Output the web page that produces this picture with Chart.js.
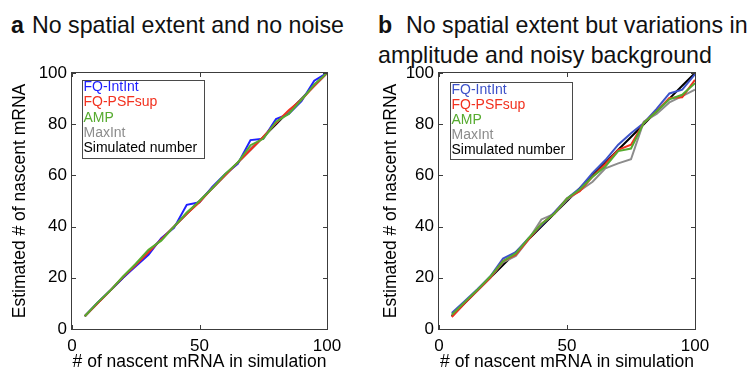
<!DOCTYPE html>
<html><head><meta charset="utf-8">
<script src="https://cdn.jsdelivr.net/npm/chart.js@4.4.0/dist/chart.umd.min.js"></script>
<style>
body{margin:0;background:#fff;width:752px;height:374px;overflow:hidden;position:relative;font-family:"Liberation Sans",Arial,sans-serif;}
.t{position:absolute;font-size:23.2px;line-height:30px;color:#111;white-space:nowrap;}
canvas{position:absolute;top:0;}
</style></head><body>
<div class="t" style="left:11px;top:10px;font-weight:bold">a</div>
<div class="t" style="left:32px;top:10px">No spatial extent and no noise</div>
<div class="t" style="left:378px;top:10px;font-weight:bold">b</div>
<div class="t" style="left:406px;top:10px">No spatial extent but variations in</div>
<div class="t" style="left:378px;top:40px">amplitude and noisy background</div>
<canvas id="cA" width="376" height="374" style="left:0"></canvas>
<canvas id="cB" width="384" height="374" style="left:368px"></canvas>
<script>
// ---- data ----
const simulated = [5,10,15,20,25,30,35,40,45,50,55,60,65,70,75,80,85,90,95,100];
const seriesNames = ['FQ-IntInt','FQ-PSFsup','AMP','MaxInt','Simulated number'];
const xTicks = [0,50,100];
const yTicks = [0,20,40,60,80,100];
const xTitle = '# of nascent mRNA in simulation';
const yTitle = 'Estimated # of nascent mRNA';

// panel a: no spatial extent and no noise
const a_intInt   = [5,10.3,15,20,24.5,29,35.5,39.5,48.5,49.5,55.5,60.5,64.5,73.8,74.3,82,84,89,97,100];
const a_psfSup   = [5,10,15,20.3,25,30,35,40,45,49.5,55,60,65,70,75,80.5,85.5,89.5,95,100];
const a_amp      = [5,10.3,15,20.5,25.5,31,34.5,40,45.5,50,55,60.5,65,71.8,74.3,81,84,89.5,95.5,100];
const a_maxInt   = [5,10,15,20,25,30.5,35,40,45,50,55,60,65,70.5,75,80.5,85,90,95,100];
const a_sim      = [5,10,15,20,25,30,35,40,45,50,55,60,65,70,75,80,85,90,95,100];

// panel b: variations in amplitude and noisy background
const b_intInt   = [6.3,10.8,15.5,20.5,27.5,30,35.5,40.5,45.5,51,55,61,66,72,76.5,80.5,86,92,93.5,99.5];
const b_psfSup   = [4.7,10,15,20,26.5,29,35,41,45,51,53.8,59.5,64.5,70,72,80.5,85,90.2,90.5,97.3];
const b_amp      = [5.6,10.5,15.3,20.5,26.5,29.5,35.5,41,45,51,54.5,59.5,63.5,69.5,70.5,80.5,85,89.7,91.5,96];
const b_maxInt   = [5.5,10.5,15,20,26,28.5,35,42.8,45,50.5,54,57.5,62.8,64.7,66.3,81,84,88.5,91,93.5];
const b_sim      = [5,10,15,20,25,30,35,40,45,50,55,60,65,70,75,80,85,90,95,100];

const FONT = '"Liberation Sans", Arial, sans-serif';

function pts(ys){ return simulated.map((x,i)=>({x:x, y:ys[i]})); }

const framePlugin = {
  id:'frame',
  afterDatasetsDraw(chart, args, opts){
    const ctx = chart.ctx;
    const ca = chart.chartArea;
    const xs = chart.scales.x, ys = chart.scales.y;
    const L = Math.round(ca.left), T = Math.round(ca.top), R = Math.round(ca.right), B = Math.round(ca.bottom);
    ctx.save();
    ctx.strokeStyle = '#3c3c3c'; ctx.lineWidth = 1;
    ctx.strokeRect(L-0.5, T-0.5, R-L+1, B-T+1);
    ctx.beginPath();
    const tl = 4;
    xTicks.forEach(v=>{
      const p = Math.round(xs.getPixelForValue(v)) + 0.5;
      ctx.moveTo(p, B); ctx.lineTo(p, B-tl);
      ctx.moveTo(p, T); ctx.lineTo(p, T+tl);
    });
    yTicks.forEach(v=>{
      const p = Math.round(ys.getPixelForValue(v)) + 0.5;
      ctx.moveTo(L, p); ctx.lineTo(L+tl, p);
      ctx.moveTo(R, p); ctx.lineTo(R-tl, p);
    });
    ctx.stroke();
    // legend (text only, coloured like the series)
    const bx = L + opts.dx, by = T + opts.dy;
    ctx.fillStyle = '#fff';
    ctx.fillRect(bx, by, opts.w, opts.h);
    ctx.strokeStyle = '#4a4a4a';
    ctx.strokeRect(bx+0.5, by+0.5, opts.w, opts.h);
    ctx.font = '14px ' + FONT;
    ctx.textBaseline = 'alphabetic';
    ctx.textAlign = 'left';
    chart.data.datasets.forEach((d,i)=>{
      ctx.fillStyle = d.borderColor;
      ctx.fillText(d.label, bx + 1.5, by + opts.first + i*opts.step);
    });
    ctx.restore();
  }
};

function makeChart(id, data, colors, cfg){
  const ds = data.map((ys,i)=>({
    label: seriesNames[i],
    data: pts(ys),
    borderColor: colors[i],
    backgroundColor: colors[i],
    borderWidth: 2,
    pointRadius: 0,
    tension: 0,
    fill: false,
    order: [3,2,1,4,5][i]
  }));
  return new Chart(document.getElementById(id), {
    type:'line',
    data:{datasets: ds},
    plugins:[framePlugin],
    options:{
      responsive:false, animation:false, devicePixelRatio:1,
      layout:{padding:{left:0, top:cfg.top, right:cfg.right, bottom:0}},
      plugins:{legend:{display:false}, tooltip:{enabled:false}, title:{display:false},
        frame: cfg.legend},
      scales:{
        x:{type:'linear', min:0, max:100,
          afterBuildTicks: s=>{ s.ticks = xTicks.map(v=>({value:v})); },
          ticks:{font:{size:17, family:FONT}, color:'#000', padding:7, maxRotation:0, autoSkip:false},
          grid:{display:false, drawTicks:false}, border:{display:false},
          title:{display:true, text:xTitle, color:'#000', font:{size:17.5, family:FONT}, padding:{top:0, bottom:1}},
          afterFit: s=>{ s.height = 374 - cfg.bottom; }
        },
        y:{type:'linear', min:0, max:100,
          afterBuildTicks: s=>{ s.ticks = yTicks.map(v=>({value:v})); },
          ticks:{font:{size:17, family:FONT}, color:'#000', padding:5, autoSkip:false},
          grid:{display:false, drawTicks:false}, border:{display:false},
          title:{display:true, text:yTitle, color:'#000', font:{size:17.5, family:FONT}, padding:{top:cfg.ytp, bottom:0}},
          afterFit: s=>{ s.width = cfg.left; }
        }
      }
    }
  });
}

makeChart('cA', [a_intInt, a_psfSup, a_amp, a_maxInt, a_sim],
  ['#1f1fff','#f2311f','#56ab2f','#8c8c8c','#000000'],
  {top:73, right:49, bottom:329, left:72, ytp:10,
   legend:{dx:10, dy:7, w:122, h:78, first:11, step:15.25}});

makeChart('cB', [b_intInt, b_psfSup, b_amp, b_maxInt, b_sim],
  ['#3d52c9','#f2311f','#56ab2f','#8c8c8c','#000000'],
  {top:73, right:57, bottom:329, left:71, ytp:13,
   legend:{dx:11, dy:9, w:122, h:77, first:12, step:15}});
</script>
</body></html>
